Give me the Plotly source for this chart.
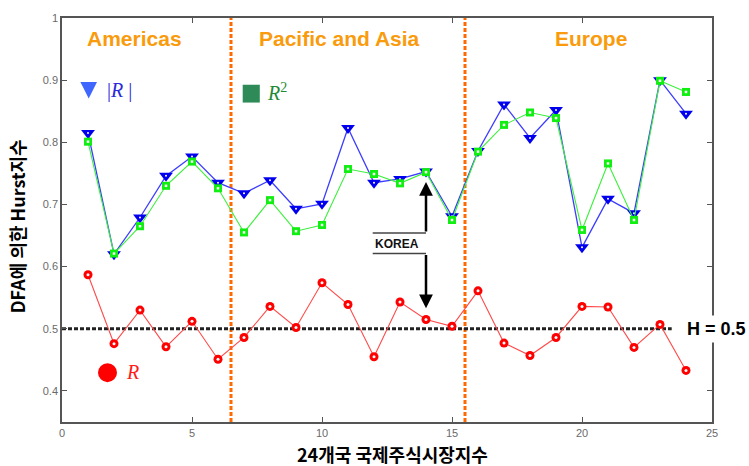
import plotly.graph_objects as go

# Hurst exponents from DFA for 24 international stock market indices
markets = list(range(1, 25))
abs_r = [0.815, 0.620, 0.679, 0.746, 0.777, 0.735, 0.718, 0.739, 0.693, 0.701, 0.823, 0.735,
         0.741, 0.753, 0.681, 0.786, 0.861, 0.807, 0.852, 0.631, 0.709, 0.686, 0.900, 0.846]
r_squared = [0.801, 0.621, 0.665, 0.730, 0.769, 0.726, 0.655, 0.707, 0.657, 0.667, 0.757, 0.749,
             0.734, 0.752, 0.675, 0.785, 0.828, 0.848, 0.839, 0.659, 0.766, 0.675, 0.899, 0.881]
r_plain = [0.587, 0.476, 0.530, 0.471, 0.512, 0.451, 0.486, 0.536, 0.502, 0.574, 0.539, 0.455,
           0.543, 0.515, 0.504, 0.561, 0.477, 0.457, 0.486, 0.536, 0.535, 0.470, 0.507, 0.433]

x_ticks = [0, 5, 10, 15, 20, 25]
y_ticks = [0.4, 0.5, 0.6, 0.7, 0.8, 0.9, 1.0]
y_tick_text = ["0.4", "0.5", "0.6", "0.7", "0.8", "0.9", "1"]

region_breaks = [6.5, 15.5]
korea_index = 14
h_ref = 0.5

SANS = "Liberation Sans, Arial, sans-serif"
KR = "Noto Sans CJK KR, sans-serif"
SERIF = "Liberation Serif, DejaVu Serif, serif"
ORANGE_TXT = "#F99B0C"
ORANGE_LINE = "#FF6A00"

fig = go.Figure()

# |R| series
fig.add_trace(go.Scatter(
    x=markets, y=abs_r, mode="lines+markers",
    line=dict(color="#3c3cff", width=1.3),
    marker=dict(symbol="triangle-down", size=12, color="#0000ee"),
    hoverinfo="skip"))
fig.add_trace(go.Scatter(
    x=markets, y=abs_r, mode="markers",
    marker=dict(symbol="circle", size=2, color="white"), hoverinfo="skip"))

# R^2 series
fig.add_trace(go.Scatter(
    x=markets, y=r_squared, mode="lines+markers",
    line=dict(color="#3cf03c", width=1.1),
    marker=dict(symbol="square", size=8, color="#11ee11"),
    hoverinfo="skip"))
fig.add_trace(go.Scatter(
    x=markets, y=r_squared, mode="markers",
    marker=dict(symbol="square", size=2.5, color="white"), hoverinfo="skip"))

# R series
fig.add_trace(go.Scatter(
    x=markets, y=r_plain, mode="lines+markers",
    line=dict(color="#ff4a4a", width=1.1),
    marker=dict(symbol="circle", size=9, color="#ff0000"),
    hoverinfo="skip"))
fig.add_trace(go.Scatter(
    x=markets, y=r_plain, mode="markers",
    marker=dict(symbol="circle", size=3, color="white"), hoverinfo="skip"))

shapes = []
# region separators
for xb in region_breaks:
    shapes.append(dict(type="line", xref="x", yref="paper", x0=xb, x1=xb, y0=0, y1=1,
                       line=dict(color=ORANGE_LINE, width=3, dash="4px,2px"), layer="below"))
# H = 0.5 reference line
shapes.append(dict(type="line", xref="x", yref="y", x0=0, x1=23.45, y0=h_ref, y1=h_ref,
                   line=dict(color="#222222", width=3, dash="4px,2px"), layer="below"))
# KOREA label rules
for yy in [0.654, 0.621]:
    shapes.append(dict(type="line", xref="x", yref="y", x0=11.95, x1=korea_index, y0=yy, y1=yy,
                       line=dict(color="#444444", width=1.5)))
# legend glyphs
shapes.append(dict(type="path", xref="paper", yref="paper",
                   path="M 0.0283 0.8414 L 0.0539 0.8414 L 0.0411 0.8005 Z",
                   fillcolor="#3f67ff", line=dict(width=0)))
shapes.append(dict(type="rect", xref="paper", yref="paper", x0=0.278, x1=0.3043, y0=0.7907, y1=0.8348,
                   fillcolor="#2E8B57", line=dict(width=0)))
shapes.append(dict(type="circle", xref="paper", yref="paper", x0=0.0554, x1=0.0846, y0=0.0987, y1=0.1452,
                   fillcolor="#ff0000", line=dict(width=0)))


def label(text, x, y, size, color, family, **kw):
    d = dict(text=text, x=x, y=y, xref="paper", yref="paper", showarrow=False,
             xanchor="center", yanchor="middle",
             font=dict(family=family, size=size, color=color))
    d.update(kw)
    return d


annotations = [
    label("<b>Americas</b>", 0.112, 0.95, 21, ORANGE_TXT, SANS),
    label("<b>Pacific and Asia</b>", 0.427, 0.95, 21, ORANGE_TXT, SANS),
    label("<b>Europe</b>", 0.814, 0.95, 21, ORANGE_TXT, SANS),
    label("|<i>R</i> |", 0.0888, 0.821, 20, "#2a2ad8", SERIF),
    label("<i>R</i><sup>2</sup>", 0.3305, 0.818, 20, "#1f8a35", SERIF),
    label("<i>R</i>", 0.108, 0.1249, 20, "#ff1a1a", SERIF),
    dict(text="<b>H = 0.5</b>", x=0.955, y=h_ref, xref="paper", yref="y",
         xanchor="left", yanchor="middle", showarrow=False, bgcolor="white", borderpad=3,
         font=dict(family=SANS, size=18, color="black")),
    dict(text="<b>KOREA</b>", x=11.97, y=0.637, xref="x", yref="y",
         xanchor="left", yanchor="middle", showarrow=False,
         font=dict(family=SANS, size=12, color="#111111")),
    # arrows pointing to Korea's values
    dict(x=korea_index, y=0.736, ax=korea_index, ay=0.654, xref="x", yref="y", axref="x", ayref="y",
         text="", showarrow=True, arrowhead=2, arrowsize=1.1, arrowwidth=2.5, arrowcolor="black"),
    dict(x=korea_index, y=0.533, ax=korea_index, ay=0.621, xref="x", yref="y", axref="x", ayref="y",
         text="", showarrow=True, arrowhead=2, arrowsize=1.1, arrowwidth=2.5, arrowcolor="black"),
    # axis titles
    label("<b>DFA에 의한 Hurst지수</b>", -0.0697, 0.4835, 18, "black", KR, textangle=-90),
    label("<b>24개국 국제주식시장지수</b>", 0.5086, -0.079, 18, "black", KR),
]

axis_common = dict(showline=True, linecolor="#555555", linewidth=1.5, mirror="ticks",
                   ticks="inside", ticklen=5, tickcolor="#555555", tickwidth=1,
                   showgrid=False, zeroline=False,
                   tickfont=dict(family=SANS, size=11, color="#6a6a6a"))

fig.update_layout(
    width=749, height=466,
    margin=dict(l=62, r=37, t=13, b=44),
    paper_bgcolor="white", plot_bgcolor="white",
    showlegend=False,
    xaxis=dict(range=[0, 25], tickvals=x_ticks, **axis_common),
    yaxis=dict(range=[0.35, 1.0], tickvals=y_ticks, ticktext=y_tick_text, **axis_common),
    shapes=shapes, annotations=annotations,
)

fig.write_html("out.html")
